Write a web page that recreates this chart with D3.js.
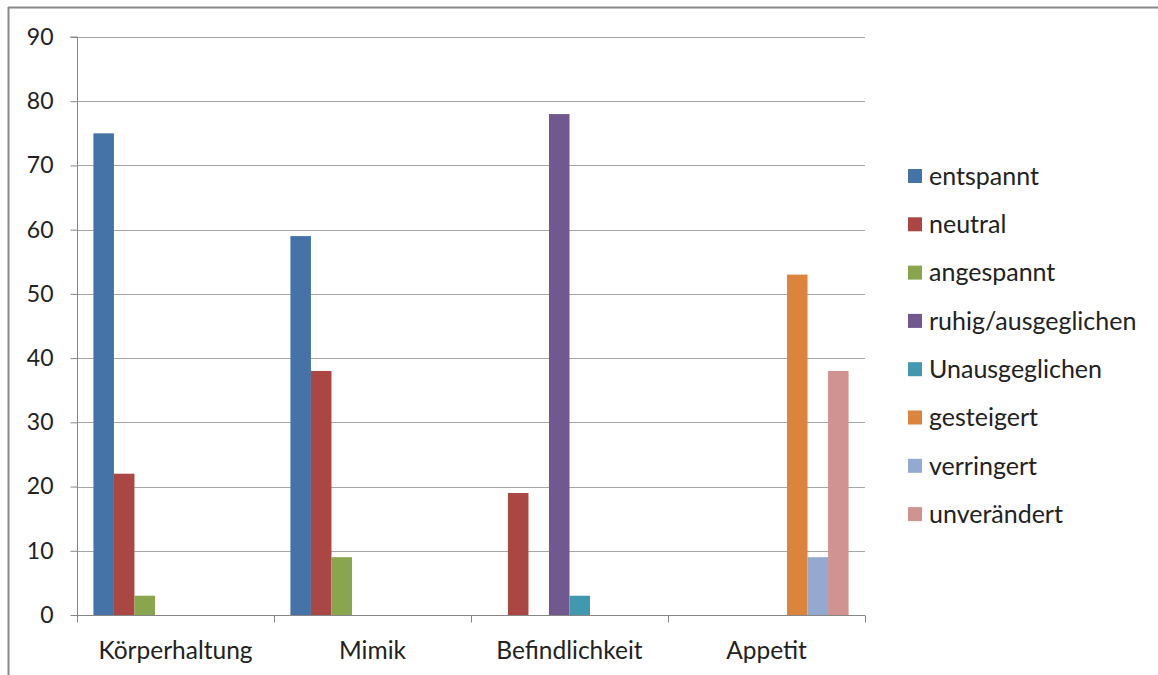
<!DOCTYPE html>
<html>
<head>
<meta charset="utf-8">
<script src="https://cdn.jsdelivr.net/npm/d3@7"></script>
<style>
  html, body { margin: 0; padding: 0; background: #fff; }
  svg { display: block; }
  text { font-family: Lato, "Open Sans", sans-serif; fill: #222; }
</style>
</head>
<body>
<svg id="chart" width="1158" height="675"></svg>
<script>
// Categories along the x axis
const categories = ["Körperhaltung", "Mimik", "Befindlichkeit", "Appetit"];
// Series names, in legend order
const seriesNames = ["entspannt", "neutral", "angespannt", "ruhig/ausgeglichen",
                     "Unausgeglichen", "gesteigert", "verringert", "unverändert"];
// Values per series, one entry per category (null = no bar)
const entspannt        = [75, 59, null, null];
const neutral          = [22, 38, 19, null];
const angespannt       = [3, 9, null, null];
const ruhigAusgeglichen = [null, null, 78, null];
const unausgeglichen   = [null, null, 3, null];
const gesteigert       = [null, null, null, 53];
const verringert       = [null, null, null, 9];
const unveraendert     = [null, null, null, 38];
const seriesValues = [entspannt, neutral, angespannt, ruhigAusgeglichen,
                      unausgeglichen, gesteigert, verringert, unveraendert];
// Y axis ticks
const yTicks = [0, 10, 20, 30, 40, 50, 60, 70, 80, 90];

const colors = ["#4573A7", "#AA4643", "#89A54E", "#71588F",
                "#4198AF", "#DB843D", "#93A9CF", "#D19392"];

const svg = d3.select("#chart");

// outer frame (top and left edges visible)
svg.append("line").attr("x1", 8).attr("x2", 1158).attr("y1", 7.5).attr("y2", 7.5)
  .attr("stroke", "#888").attr("stroke-width", 2);
svg.append("line").attr("x1", 8.5).attr("x2", 8.5).attr("y1", 7).attr("y2", 675)
  .attr("stroke", "#888").attr("stroke-width", 2);

const plot = { left: 77, right: 865, top: 37, bottom: 615 };

const x0 = d3.scaleBand().domain(categories).range([plot.left, plot.right])
  .paddingInner(0).paddingOuter(0);
const x1 = d3.scaleBand().domain(d3.range(seriesNames.length)).range([0, x0.bandwidth()])
  .paddingInner(0).paddingOuter(0.8);
const y = d3.scaleLinear().domain([0, 90]).range([plot.bottom, plot.top]);

// gridlines
svg.append("g").selectAll("line").data(yTicks.filter(t => t > 0)).join("line")
  .attr("x1", plot.left).attr("x2", plot.right)
  .attr("y1", d => Math.round(y(d)) + 0.5).attr("y2", d => Math.round(y(d)) + 0.5)
  .attr("stroke", "#a6a6a6").attr("stroke-width", 1);

// bars
const groups = svg.append("g").selectAll("g").data(seriesValues).join("g")
  .attr("fill", (d, i) => colors[i]);
groups.selectAll("rect")
  .data((vals, si) => vals.map((v, ci) => ({ v, ci, si })).filter(d => d.v != null))
  .join("rect")
  .attr("x", d => x0(categories[d.ci]) + x1(d.si))
  .attr("width", x1.bandwidth())
  .attr("y", d => y(d.v))
  .attr("height", d => y(0) - y(d.v));

// y axis
const yAxis = d3.axisLeft(y).tickValues(yTicks).tickSize(7).tickPadding(17);
const gy = svg.append("g").attr("transform", `translate(${plot.left + 0.5},0)`).call(yAxis);
gy.select(".domain").attr("stroke", "#868686").attr("d", `M-7,${y(90)}H0V${y(0)}`);
gy.selectAll(".tick line").attr("stroke", "#868686");
gy.selectAll(".tick text").attr("fill", "#222")
  .style("font-family", "Lato, sans-serif").style("font-size", "23px");

// x axis
const gx = svg.append("g").attr("transform", `translate(0,${plot.bottom + 0.5})`);
gx.append("line").attr("x1", plot.left).attr("x2", plot.right)
  .attr("stroke", "#868686");
const boundaries = categories.map(c => x0(c)).concat([plot.right]);
gx.selectAll("line.tk").data(boundaries).join("line").attr("class", "tk")
  .attr("x1", d => Math.round(d) + 0.5).attr("x2", d => Math.round(d) + 0.5)
  .attr("y1", 0).attr("y2", 7).attr("stroke", "#868686");
gx.selectAll("text").data(categories).join("text")
  .attr("x", d => x0(d) + x0.bandwidth() / 2)
  .attr("y", 43)
  .attr("text-anchor", "middle")
  .style("font-size", "24.5px")
  .text(d => d);

// legend
const legend = svg.append("g").attr("transform", "translate(908,176)");
const items = legend.selectAll("g").data(seriesNames).join("g")
  .attr("transform", (d, i) => `translate(0,${i * 48.3})`);
items.append("rect").attr("x", 0).attr("y", -7).attr("width", 14).attr("height", 14)
  .attr("fill", (d, i) => colors[i]);
items.append("text").attr("x", 21).attr("y", 0).attr("dy", "0.35em")
  .style("font-size", "25px").text(d => d);
</script>
</body>
</html>
